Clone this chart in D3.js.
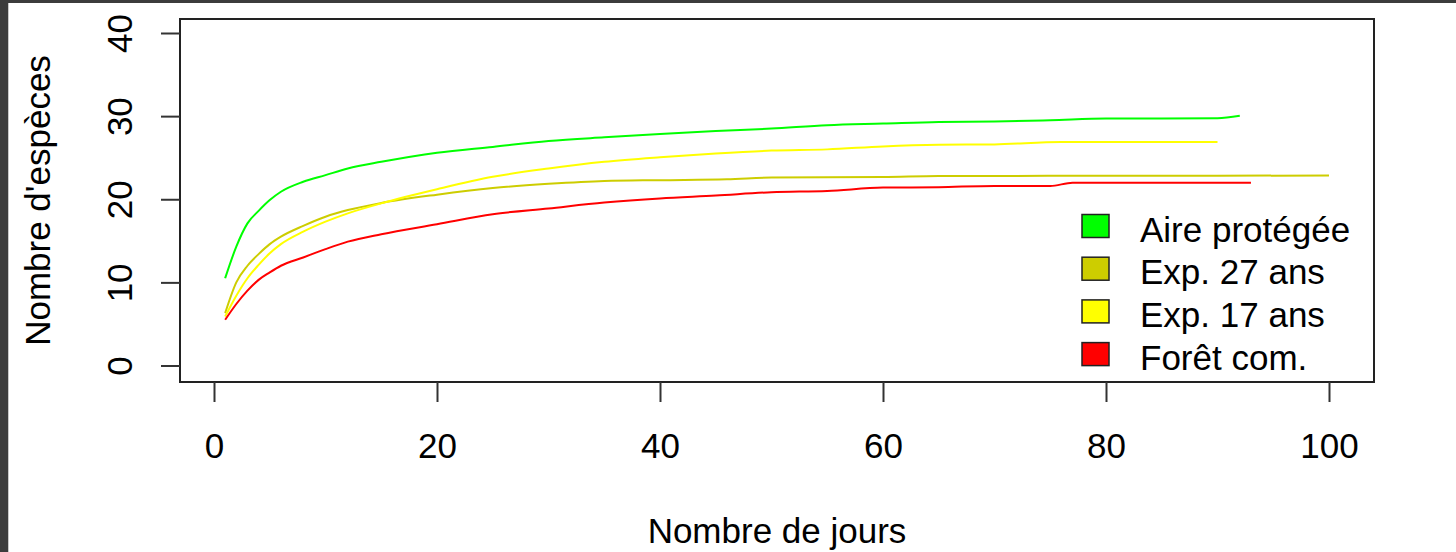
<!DOCTYPE html>
<html>
<head>
<meta charset="utf-8">
<script src="https://cdn.jsdelivr.net/npm/d3@7/dist/d3.min.js"></script>
<style>
  html, body { margin: 0; padding: 0; background: #fff; }
  svg { display: block; }
  text { font-family: "Liberation Sans", Arial, sans-serif; fill: #000; }
</style>
</head>
<body>
<svg id="chart" width="1456" height="552"></svg>
<script>
// Species accumulation curves: number of species vs. number of sampling days
const seriesNames = ["Aire protégée", "Exp. 27 ans", "Exp. 17 ans", "Forêt com."];
const seriesColors = ["#00ff00", "#cdcd00", "#ffff00", "#ff0000"];

const daysAire   = [1, 2, 3, 4, 5, 6, 8, 10, 12, 15, 20, 25, 30, 35, 40, 45, 50, 55, 60, 65, 70, 75, 80, 90, 92];
const valuesAire = [10.5, 14.3, 17.1, 18.6, 19.9, 20.9, 22.1, 22.9, 23.7, 24.5, 25.6, 26.3, 27.0, 27.45, 27.85, 28.2, 28.5, 28.9, 29.1, 29.3, 29.35, 29.5, 29.7, 29.75, 30.05];

const daysExp27   = [1, 2, 3, 4, 5, 6, 8, 10, 12, 15, 20, 25, 30, 35, 40, 46, 50, 60, 65, 80, 100];
const valuesExp27 = [6.3, 10.0, 12.0, 13.4, 14.6, 15.5, 16.8, 17.9, 18.7, 19.55, 20.55, 21.35, 21.85, 22.2, 22.3, 22.4, 22.62, 22.68, 22.8, 22.82, 22.85];

const daysExp17   = [1, 2, 3, 4, 5, 6, 8, 10, 12, 15, 20, 25, 30, 35, 40, 45, 50, 55, 60, 65, 70, 76, 90];
const valuesExp17 = [5.9, 8.4, 10.5, 12.1, 13.5, 14.6, 16.1, 17.3, 18.3, 19.5, 21.2, 22.7, 23.7, 24.5, 25.05, 25.5, 25.85, 26.0, 26.35, 26.55, 26.6, 26.9, 26.9];

const daysForet   = [1, 2, 3, 4, 5, 6, 8, 10, 12, 15, 20, 25, 30, 35, 40, 45, 50, 55, 60, 65, 70, 75, 77, 93];
const valuesForet = [5.5, 7.4, 9.0, 10.3, 11.2, 12.0, 13.0, 14.0, 14.9, 15.8, 17.0, 18.2, 18.9, 19.6, 20.1, 20.45, 20.85, 21.0, 21.4, 21.45, 21.6, 21.6, 21.98, 21.98];

const xTicks = [0, 20, 40, 60, 80, 100];
const yTicks = [0, 10, 20, 30, 40];
const xTitle = "Nombre de jours";
const yTitle = "Nombre d'espèces";

const svg = d3.select("#chart");
const W = 1456, H = 552;
const box = { left: 180, top: 19, right: 1374, bottom: 382 };
const fontSize = 35;

// Dark window frame on top and left edges
svg.append("rect").attr("x", 0).attr("y", 0).attr("width", W).attr("height", H).attr("fill", "#fff");
svg.append("rect").attr("x", 0).attr("y", 0).attr("width", W).attr("height", 3).attr("fill", "#3c3c3c");
svg.append("rect").attr("x", 0).attr("y", 0).attr("width", 8).attr("height", H).attr("fill", "#3c3c3c");
svg.append("rect").attr("x", 8).attr("y", 3).attr("width", 1).attr("height", H).attr("fill", "#c8c8c8");

const x = d3.scaleLinear().domain([0, 100]).range([214, 1329]);
const y = d3.scaleLinear().domain([0, 40]).range([365.5, 33]);

const series = [
  { days: daysAire,  values: valuesAire },
  { days: daysExp27, values: valuesExp27 },
  { days: daysExp17, values: valuesExp17 },
  { days: daysForet, values: valuesForet }
];

const line = d3.line()
  .x(d => x(d[0]))
  .y(d => y(d[1]))
  .curve(d3.curveMonotoneX);

const plot = svg.append("g");
series.forEach((s, i) => {
  const pts = s.days.map((d, k) => [d, s.values[k]]);
  plot.append("path")
    .datum(pts)
    .attr("d", line)
    .attr("fill", "none")
    .attr("stroke", seriesColors[i])
    .attr("stroke-width", 2);
});

// Plot frame
svg.append("rect")
  .attr("x", box.left).attr("y", box.top)
  .attr("width", box.right - box.left).attr("height", box.bottom - box.top)
  .attr("fill", "none").attr("stroke", "#222").attr("stroke-width", 2);

// X axis
const gx = svg.append("g")
  .attr("transform", `translate(0,${box.bottom})`)
  .call(d3.axisBottom(x).tickValues(xTicks).tickSize(20).tickSizeOuter(0));
gx.select(".domain").remove();
gx.selectAll(".tick line").attr("stroke", "#333").attr("stroke-width", 2);
gx.selectAll(".tick text")
  .attr("y", 76).attr("dy", null)
  .attr("font-size", fontSize)
  .attr("font-family", "Liberation Sans, Arial, sans-serif")
  .attr("fill", "#000");

// Y axis, labels parallel to the axis
const gy = svg.append("g")
  .attr("transform", `translate(${box.left},0)`)
  .call(d3.axisLeft(y).tickValues(yTicks).tickSize(19).tickSizeOuter(0));
gy.select(".domain").remove();
gy.selectAll(".tick line").attr("stroke", "#333").attr("stroke-width", 2);
gy.selectAll(".tick text")
  .attr("x", null).attr("dy", null)
  .attr("transform", "translate(-48,0) rotate(-90)")
  .attr("text-anchor", "middle")
  .attr("font-size", fontSize)
  .attr("font-family", "Liberation Sans, Arial, sans-serif")
  .attr("fill", "#000");

// Axis titles
svg.append("text")
  .attr("x", (box.left + box.right) / 2).attr("y", 543)
  .attr("text-anchor", "middle").attr("font-size", fontSize)
  .text(xTitle);
svg.append("text")
  .attr("transform", `translate(50,${(box.top + box.bottom) / 2}) rotate(-90)`)
  .attr("text-anchor", "middle").attr("font-size", fontSize)
  .text(yTitle);

// Legend
const legend = svg.append("g");
const legendX = 1082, legendTextX = 1140, firstBaseline = 241.5, rowStep = 42.7;
seriesNames.forEach((name, i) => {
  const base = firstBaseline + i * rowStep;
  legend.append("rect")
    .attr("x", legendX).attr("y", base - 27)
    .attr("width", 27).attr("height", 23)
    .attr("fill", seriesColors[i])
    .attr("stroke", "#222").attr("stroke-width", 1.5);
  legend.append("text")
    .attr("x", legendTextX).attr("y", base)
    .attr("font-size", fontSize)
    .text(name);
});
</script>
</body>
</html>
